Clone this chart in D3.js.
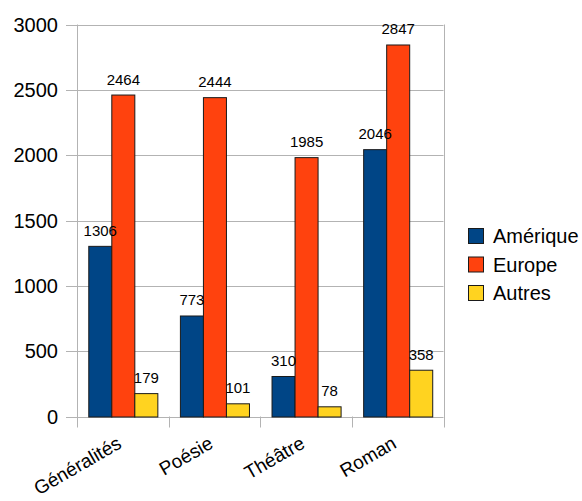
<!DOCTYPE html>
<html>
<head>
<meta charset="utf-8">
<script src="https://cdn.jsdelivr.net/npm/d3@7"></script>
<style>
  html, body { margin: 0; padding: 0; background: #fff; }
  svg { display: block; font-family: "Liberation Sans", Arial, sans-serif; }
</style>
</head>
<body>
<svg id="chart" width="582" height="501"></svg>
<script>
// Book counts by genre and region of origin
const categories = ["Généralités", "Poésie", "Théâtre", "Roman"];
const seriesNames = ["Amérique", "Europe", "Autres"];
const amerique = [1306, 773, 310, 2046];
const europe = [2464, 2444, 1985, 2847];
const autres = [179, 101, 78, 358];
const yTicks = [0, 500, 1000, 1500, 2000, 2500, 3000];
const colors = ["#004586", "#ff420e", "#ffd320"];

const seriesValues = [amerique, europe, autres];

const svg = d3.select("#chart");
const plot = { left: 77, right: 443.5, top: 24.5, bottom: 416.5 };

const x = d3.scaleBand()
  .domain(categories)
  .range([plot.left, plot.right])
  .paddingInner(0)
  .paddingOuter(0);

const xInner = d3.scaleBand()
  .domain(seriesNames)
  .range([0, x.bandwidth()])
  .paddingOuter(0.49)
  .paddingInner(0);

const y = d3.scaleLinear()
  .domain([0, 3000])
  .range([plot.bottom, plot.top]);

const grid = "#b3b3b3";

// horizontal gridlines with short ticks on the left
svg.append("g")
  .selectAll("line")
  .data(yTicks)
  .join("line")
  .attr("x1", plot.left - 11)
  .attr("x2", plot.right)
  .attr("y1", d => Math.round(y(d)) + 0.5)
  .attr("y2", d => Math.round(y(d)) + 0.5)
  .attr("stroke", grid)
  .attr("stroke-width", 1);

// left and right frame edges
[plot.left, plot.right].forEach(px => {
  svg.append("line")
    .attr("x1", Math.round(px) + 0.5).attr("x2", Math.round(px) + 0.5)
    .attr("y1", plot.top).attr("y2", plot.bottom + 11)
    .attr("stroke", grid);
});

// category separators below the baseline
svg.append("g")
  .selectAll("line")
  .data(categories.slice(1))
  .join("line")
  .attr("x1", d => Math.round(x(d)) + 0.5)
  .attr("x2", d => Math.round(x(d)) + 0.5)
  .attr("y1", plot.bottom)
  .attr("y2", plot.bottom + 11)
  .attr("stroke", grid);

// y tick labels
svg.append("g")
  .selectAll("text")
  .data(yTicks)
  .join("text")
  .attr("x", plot.left - 19)
  .attr("y", d => y(d) + 7)
  .attr("text-anchor", "end")
  .attr("font-size", 20)
  .attr("fill", "#000")
  .text(d => d);

// bars
const groups = svg.append("g")
  .selectAll("g")
  .data(categories)
  .join("g")
  .attr("transform", d => `translate(${x(d)},0)`);

groups.selectAll("rect")
  .data((c, i) => seriesNames.map((s, j) => ({ s, j, v: seriesValues[j][i] })))
  .join("rect")
  .attr("x", d => xInner(d.s) + 0.5)
  .attr("y", d => y(d.v) + 0.5)
  .attr("width", xInner.bandwidth())
  .attr("height", d => y(0) - y(d.v))
  .attr("fill", d => colors[d.j])
  .attr("stroke", "#1a1a1a")
  .attr("stroke-width", 1);

// value labels above bars
groups.selectAll("text")
  .data((c, i) => seriesNames.map((s, j) => ({ s, j, v: seriesValues[j][i] })))
  .join("text")
  .attr("x", d => xInner(d.s) + xInner.bandwidth() / 2 + 0.5)
  .attr("y", d => y(d.v) - 10)
  .attr("text-anchor", "middle")
  .attr("font-size", 15)
  .attr("fill", "#000")
  .text(d => d.v);

// rotated category labels
svg.append("g")
  .selectAll("text")
  .data(categories)
  .join("text")
  .attr("transform", d => `translate(${x(d) + x.bandwidth() / 2},447) rotate(-30)`)
  .attr("text-anchor", "end")
  .attr("font-size", 19)
  .attr("fill", "#000")
  .text(d => d);

// legend
const legend = svg.append("g")
  .selectAll("g")
  .data(seriesNames)
  .join("g")
  .attr("transform", (d, i) => `translate(468,${228 + i * 28.5})`);

legend.append("rect")
  .attr("x", 0.5).attr("y", 0.5)
  .attr("width", 15).attr("height", 15)
  .attr("fill", (d, i) => colors[i])
  .attr("stroke", "#1a1a1a");

legend.append("text")
  .attr("x", 25)
  .attr("y", 15)
  .attr("font-size", 20)
  .attr("fill", "#000")
  .text(d => d);
</script>
</body>
</html>
